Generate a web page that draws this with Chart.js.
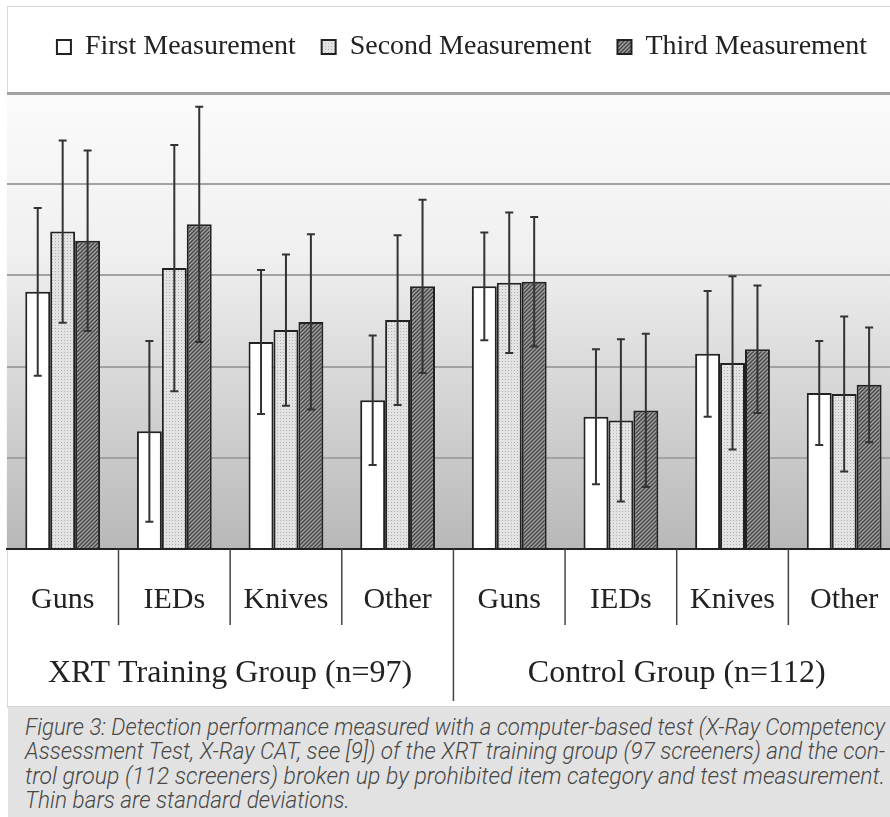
<!DOCTYPE html>
<html>
<head>
<meta charset="utf-8">
<script src="https://cdn.jsdelivr.net/npm/chart.js@4.4.0/dist/chart.umd.min.js"></script>
<style>
  html, body { margin: 0; padding: 0; background: #fff; }
  body { width: 890px; height: 817px; overflow: hidden; position: relative; }
  #frame { position: absolute; left: 7px; top: 6px; width: 940px; height: 700px; border: 1px solid #d9d9d9; background: #fff; }
  #wrap { position: absolute; left: -2px; top: 7px; width: 916px; height: 699px; }
  #caption { position: absolute; left: 8px; top: 706px; width: 900px; height: 120px; background: #e2e2e2; border-top: 1px solid #d2d2d2; }
  #caption .line {
    position: absolute; left: 17px; white-space: nowrap;
    font-family: Roboto, "Liberation Sans", sans-serif; font-style: italic; font-weight: 300;
    font-size: 23px; line-height: 24px; color: #474747; transform-origin: left center;
  }
</style>
</head>
<body>
<div id="frame"></div>
<div id="wrap"><canvas id="chart"></canvas></div>
<div id="caption">
  <div class="line" style="top:9px">Figure 3: Detection performance measured with a computer-based test (X-Ray Competency</div>
  <div class="line" style="top:33px">Assessment Test, X-Ray CAT, see [9]) of the XRT training group (97 screeners) and the con-</div>
  <div class="line" style="top:58px">trol group (112 screeners) broken up by prohibited item category and test measurement.</div>
  <div class="line" style="top:82px">Thin bars are standard deviations.</div>
</div>
<script>
// categories (two groups of four item categories)
const categories = ['Guns', 'IEDs', 'Knives', 'Other', 'Guns', 'IEDs', 'Knives', 'Other'];
const groups = ['XRT Training Group (n=97)', 'Control Group (n=112)'];
const seriesNames = ['First Measurement', 'Second Measurement', 'Third Measurement'];

// means (one gridline = 1 unit)
const first  = [2.82, 1.29, 2.27, 1.63, 2.88, 1.45, 2.14, 1.71];
const second = [3.48, 3.08, 2.40, 2.51, 2.92, 1.41, 2.04, 1.70];
const third  = [3.38, 3.56, 2.49, 2.88, 2.93, 1.52, 2.19, 1.80];

// standard deviations (thin bars)
const firstSd  = [0.92, 0.99, 0.79, 0.71, 0.59, 0.74, 0.69, 0.57];
const secondSd = [1.00, 1.35, 0.83, 0.93, 0.77, 0.89, 0.95, 0.85];
const thirdSd  = [0.99, 1.29, 0.96, 0.95, 0.71, 0.84, 0.70, 0.63];

const yMax = 5;
const yStep = 1;

const canvas = document.getElementById('chart');
const ctx = canvas.getContext('2d');

function dotPattern() {
    const c = document.createElement('canvas');
    c.width = 3; c.height = 3;
    const g = c.getContext('2d');
    g.fillStyle = '#e3e3e3';
    g.fillRect(0, 0, 3, 3);
    g.fillStyle = '#b0b0b0';
    g.fillRect(0, 0, 1, 1);
    return ctx.createPattern(c, 'repeat');
}

function hatchPattern() {
    const c = document.createElement('canvas');
    c.width = 4; c.height = 4;
    const g = c.getContext('2d');
    g.fillStyle = '#a2a2a2';
    g.fillRect(0, 0, 4, 4);
    g.strokeStyle = '#444';
    g.lineWidth = 1.4;
    g.beginPath();
    g.moveTo(0, 4); g.lineTo(4, 0);
    g.moveTo(-1, 1); g.lineTo(1, -1);
    g.moveTo(3, 5); g.lineTo(5, 3);
    g.stroke();
    return ctx.createPattern(c, 'repeat');
}

// grey gradient behind the plot
const plotBackground = {
    id: 'plotBackground',
    beforeDraw(chart) {
        const a = chart.chartArea;
        const c = chart.ctx;
        const grad = c.createLinearGradient(0, a.top, 0, a.bottom);
        grad.addColorStop(0, '#fbfbfb');
        grad.addColorStop(0.35, '#f0f0f0');
        grad.addColorStop(0.65, '#d6d6d6');
        grad.addColorStop(1, '#b8b8b8');
        c.save();
        c.fillStyle = grad;
        c.fillRect(a.left, a.top, a.right - a.left, a.bottom - a.top);
        c.restore();
    }
};

// standard deviation whiskers
const errorBars = {
    id: 'errorBars',
    afterDatasetsDraw(chart) {
        const c = chart.ctx;
        const y = chart.scales.y;
        c.save();
        c.strokeStyle = '#333';
        c.lineWidth = 2;
        chart.data.datasets.forEach((ds, i) => {
            chart.getDatasetMeta(i).data.forEach((bar, j) => {
                const hi = y.getPixelForValue(ds.data[j] + ds.sd[j]);
                const lo = y.getPixelForValue(ds.data[j] - ds.sd[j]);
                c.beginPath();
                c.moveTo(bar.x, hi); c.lineTo(bar.x, lo);
                c.moveTo(bar.x - 4, hi); c.lineTo(bar.x + 4, hi);
                c.moveTo(bar.x - 4, lo); c.lineTo(bar.x + 4, lo);
                c.stroke();
            });
        });
        c.restore();
    }
};

// separators under the axis, group names and the divider between groups
const groupLabels = {
    id: 'groupLabels',
    afterDraw(chart) {
        const c = chart.ctx;
        const x = chart.scales.x;
        const base = chart.chartArea.bottom;
        const per = categories.length / groups.length;
        c.save();
        c.strokeStyle = '#444';
        c.lineWidth = 1.5;
        for (let i = 1; i < categories.length; i++) {
            const edge = (x.getPixelForValue(i - 1) + x.getPixelForValue(i)) / 2;
            const len = (i % per === 0) ? 152 : 76;
            c.beginPath();
            c.moveTo(edge, base);
            c.lineTo(edge, base + len);
            c.stroke();
        }
        c.font = '32px "Liberation Serif", "Times New Roman", serif';
        c.fillStyle = '#222';
        c.textAlign = 'center';
        c.textBaseline = 'middle';
        groups.forEach((name, k) => {
            const from = x.getPixelForValue(k * per);
            const to = x.getPixelForValue(k * per + per - 1);
            c.fillText(name, (from + to) / 2, base + 125);
        });
        c.restore();
    }
};

// more room under the legend, and the legend nudged right like the original
const legendSpace = {
    id: 'legendSpace',
    beforeInit(chart) {
        const fit = chart.legend.fit;
        chart.legend.fit = function () {
            fit.call(this);
            this.height += 22;
        };
    },
    afterLayout(chart) {
        chart.legend.left += 13;
        chart.legend.right += 13;
    }
};

new Chart(ctx, {
    type: 'bar',
    data: {
        labels: categories,
        datasets: [{
            label: seriesNames[0],
            data: first,
            sd: firstSd,
            backgroundColor: '#ffffff',
            borderColor: '#222',
            borderWidth: 2
        }, {
            label: seriesNames[1],
            data: second,
            sd: secondSd,
            backgroundColor: dotPattern(),
            borderColor: '#222',
            borderWidth: 2
        }, {
            label: seriesNames[2],
            data: third,
            sd: thirdSd,
            backgroundColor: hatchPattern(),
            borderColor: '#222',
            borderWidth: 2
        }]
    },
    options: {
        responsive: true,
        maintainAspectRatio: false,
        animation: false,
        categoryPercentage: 0.67,
        barPercentage: 1.0,
        layout: {
            padding: { top: 0, right: 14, bottom: 55, left: 0 }
        },
        plugins: {
            legend: {
                position: 'top',
                labels: {
                    font: { family: '"Liberation Serif", "Times New Roman", serif', size: 28 },
                    color: '#222',
                    boxWidth: 14,
                    boxHeight: 14,
                    padding: 26
                }
            },
            tooltip: { enabled: false }
        },
        scales: {
            x: {
                grid: {
                    display: true,
                    drawOnChartArea: false,
                    drawTicks: false
                },
                border: { display: true, color: '#222', width: 2 },
                ticks: {
                    padding: 33,
                    autoSkip: false,
                    maxRotation: 0,
                    color: '#222',
                    font: { family: '"Liberation Serif", "Times New Roman", serif', size: 30 }
                }
            },
            y: {
                min: 0,
                max: yMax,
                ticks: { display: false, stepSize: yStep },
                border: { display: false },
                grid: {
                    drawTicks: false,
                    color: c => (c.tick && c.tick.value === 0) ? 'rgba(0,0,0,0)' : '#a2a2a2',
                    lineWidth: c => (c.tick && c.tick.value === yMax) ? 3 : 2
                }
            }
        }
    },
    plugins: [legendSpace, plotBackground, errorBars, groupLabels]
});

// justify caption lines to the caption width
const lines = document.querySelectorAll('#caption .line');
const target = 860;
let sum = 0;
lines.forEach((el, i) => {
    if (i < lines.length - 1) {
        const k = target / el.getBoundingClientRect().width;
        sum += k;
        el.style.transform = 'scaleX(' + k + ')';
    }
});
lines[lines.length - 1].style.transform = 'scaleX(' + (sum / (lines.length - 1)) + ')';
</script>
</body>
</html>
